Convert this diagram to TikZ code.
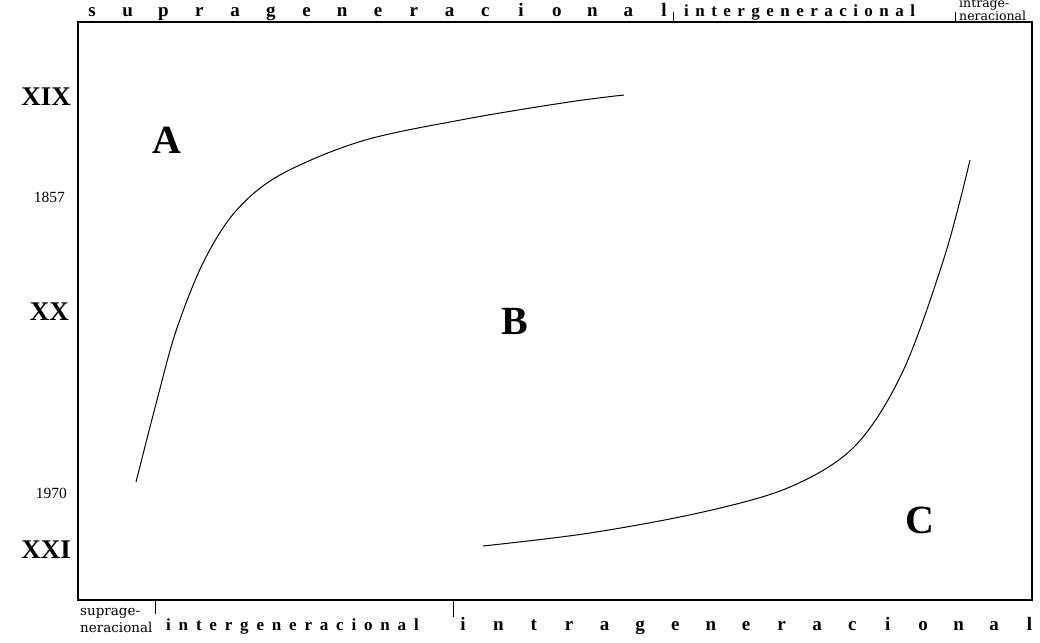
\documentclass[tikz,border=0pt]{standalone}
\usepackage{fontspec}
\setmainfont{Liberation Serif}
\newfontfamily\spacedfont[LetterSpace=38]{Liberation Serif}
\newfontfamily\widerfont[LetterSpace=46]{Liberation Serif}
\newfontfamily\notefont{DejaVu Serif}

\begin{document}
\begin{tikzpicture}[x=1pt, y=-1pt,
    every node/.style={inner sep=0pt},
    century/.style={font=\fontsize{27}{27}\selectfont\bfseries, anchor=east},
    year/.style={font=\fontsize{15.5}{15.5}\selectfont, anchor=east},
    zone/.style={font=\fontsize{40}{40}\selectfont\bfseries},
    wide/.style={font=\fontsize{19}{19}\selectfont\bfseries, anchor=base},
    tight/.style={font=\fontsize{17}{17}\selectfont\spacedfont\bfseries, anchor=base west},
    small/.style={font=\fontsize{12.5}{10.5}\selectfont\notefont, align=left, anchor=base west},
    curve/.style={line width=1pt}]

  \useasboundingbox (0,0) rectangle (1040,642);

  %--- Frame
  \coordinate (nw) at (78,22);
  \coordinate (se) at (1032,600);
  \draw[line width=1.3pt] (nw) rectangle (se);

  %--- Top row
  \foreach \l [count=\i from 0] in {s,u,p,r,a,g,e,n,e,r,a,c,i,o,n,a,l}
    \node[wide] (top\i) at (92+35.75*\i,17) {\l};
  \draw (673,12) -- (673,22);
  \node[tight] (topinter) at (684,17) {intergeneracional};
  \draw (955,12) -- (955,22);
  \node[small] (topintra) at (959,21) {intrage-\\neracional};

  %--- Bottom row
  \node[small, font=\fontsize{13.5}{16.5}\selectfont\notefont] (botsupra) at (80,632) {suprage-\\neracional};
  \draw (155,600) -- (155,614);
  \node[tight, font=\fontsize{17}{17}\selectfont\widerfont\bfseries] (botinter) at (166,630) {intergeneracional};
  \draw (453,600) -- (453,617);
  \foreach \l [count=\i from 0] in {i,n,t,r,a,g,e,n,e,r,a,c,i,o,n,a,l}
    \node[wide] (bot\i) at (463+35.4*\i,630) {\l};

  %--- Left scale
  \node[century] (xix) at (71,97) {XIX};
  \node[year] (y1857) at (65,197) {1857};
  \node[century] (xx) at (69,312) {XX};
  \node[year] (y1970) at (67,493) {1970};
  \node[century] (xxi) at (71,550) {XXI};

  %--- Zones
  \node[zone] (A) at (167,140) {A};
  \node[zone] (B) at (515,321) {B};
  \node[zone] (C) at (920,520) {C};

  %--- Curves
  \draw[curve] plot[smooth, tension=0.55] coordinates {
    (136,482) (157,400) (176,331) (203,263) (235,212)
    (280,175) (362,141) (466,119) (569,102) (624,95)};
  \draw[curve] plot[smooth, tension=0.55] coordinates {
    (483,546) (590,533) (703,512) (790,487) (855,446)
    (903,371) (945,255) (970,160)};

\end{tikzpicture}
\end{document}
